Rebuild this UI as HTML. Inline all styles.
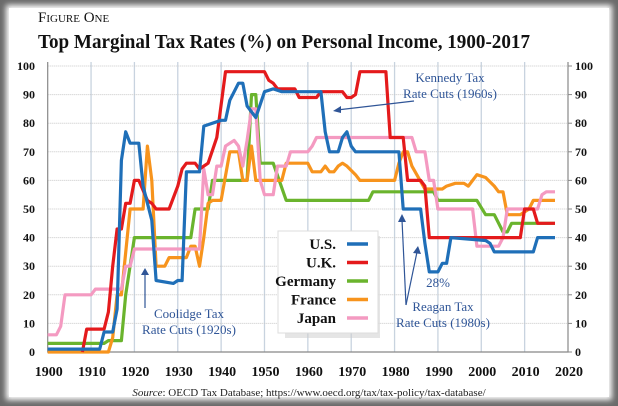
<!DOCTYPE html>
<html><head><meta charset="utf-8"><style>
body{margin:0;background:#fff;}
#wrap{position:relative;width:618px;height:406px;overflow:hidden;background:#fff;}
svg text{font-family:"Liberation Serif",serif;}
</style></head><body>
<div id="wrap">
<svg id="chart" width="618" height="406" xmlns="http://www.w3.org/2000/svg">
<defs><filter id="blur"><feGaussianBlur stdDeviation="3"/></filter></defs>
<rect x="0" y="0" width="618" height="406" fill="#6a6a6a"/>
<rect x="6" y="5" width="606" height="395" fill="#fff" filter="url(#blur)"/>
<rect x="9" y="8" width="600" height="389" fill="#fff"/>
<text x="38" y="22" font-size="15" fill="#111">F<tspan font-size="11">IGURE</tspan> O<tspan font-size="11">NE</tspan></text>
<text x="38" y="48" font-size="20" font-weight="bold" fill="#111" textLength="492" lengthAdjust="spacingAndGlyphs">Top Marginal Tax Rates (%) on Personal Income, 1900-2017</text>
<g id="grid"></g>
<g id="series"></g>
<g id="annot" fill="#2f5597" font-size="13">
<text x="450" y="82" text-anchor="middle">Kennedy Tax</text>
<text x="450" y="98" text-anchor="middle">Rate Cuts (1960s)</text>
<line x1="414" y1="101" x2="337" y2="110" stroke="#2f5597" stroke-width="1.2"/>
<polygon points="333,111 341,106 341,113" fill="#2f5597"/>
<text x="189" y="318" text-anchor="middle">Coolidge Tax</text>
<text x="189" y="334" text-anchor="middle">Rate Cuts (1920s)</text>
<line x1="145" y1="308" x2="145" y2="272" stroke="#2f5597" stroke-width="1.2"/>
<polygon points="145,268 141,275 149,275" fill="#2f5597"/>
<text x="443" y="311" text-anchor="middle">Reagan Tax</text>
<text x="443" y="327" text-anchor="middle">Rate Cuts (1980s)</text>
<line x1="406" y1="305" x2="402" y2="220" stroke="#2f5597" stroke-width="1.2"/>
<polygon points="402,214 398,222 406,222" fill="#2f5597"/>
<line x1="406" y1="305" x2="417" y2="252" stroke="#2f5597" stroke-width="1.2"/>
<polygon points="418,246 413,253 421,254" fill="#2f5597"/>
<text x="438" y="287" text-anchor="middle">28%</text>
</g>
<g>
<rect x="285" y="236" width="95" height="102" fill="#ccc" opacity="0.5"/>
<rect x="278" y="231" width="100" height="102" fill="#fff" stroke="#ddd"/>
<g id="legend"></g>
</g>
<text x="309" y="396" text-anchor="middle" font-size="11" fill="#222"><tspan font-style="italic">Source</tspan>: OECD Tax Database; https://www.oecd.org/tax/tax-policy/tax-database/</text>
</svg>
</div>
<script>
const names = ["U.S.","U.K.","Germany","France","Japan"];
const colors = ["#1f6fb8","#e41a1c","#6ab42d","#f7941d","#f49ac1"];
const yTicks = [0,10,20,30,40,50,60,70,80,90,100];
const xTicks = [1900,1910,1920,1930,1940,1950,1960,1970,1980,1990,2000,2010,2020];
const usYears = [1900,1912,1913,1915,1916,1917,1918,1919,1921,1922,1924,1925,1929,1930,1931,1932,1935,1936,1940,1941,1942,1944,1945,1946,1948,1950,1952,1954,1963,1964,1965,1967,1968,1969,1970,1971,1981,1982,1986,1987,1988,1990,1991,1992,1993,2001,2002,2003,2012,2013,2017];
const usVals = [1,1,7,7,15,67,77,73,73,58,46,25,24,25,25,63,63,79,81,81,88,94,94,86,82,91,92,91,91,77,70,70,75,77,72,70,70,50,50,38,28,28,31,31,40,39,38,35,35,40,40];
const ukYears = [1908,1909,1913,1914,1915,1916,1917,1918,1919,1920,1921,1923,1924,1925,1928,1930,1931,1932,1934,1935,1937,1939,1941,1950,1951,1952,1953,1957,1958,1962,1963,1968,1969,1970,1971,1972,1978,1979,1982,1983,1986,1987,1988,1991,2009,2010,2012,2013,2017];
const ukVals = [0,8,8,14,30,43,43,52,52,60,60,53,52,50,50,58,64,66,66,64,66,75,98,98,95,94,92,92,89,89,91,91,89,89,90,98,98,75,75,60,60,58,40,40,40,50,50,45,45];
const deYears = [1900,1913,1914,1917,1918,1920,1933,1934,1937,1938,1946,1947,1948,1949,1952,1955,1974,1975,1989,1990,1999,2001,2003,2005,2006,2007,2017];
const deVals = [3,3,4,4,20,40,40,50,50,60,60,90,90,66,66,53,53,56,56,53,53,48,48,42,42,45,45];
const frYears = [1900,1914,1915,1916,1917,1919,1922,1923,1924,1925,1927,1928,1932,1933,1934,1935,1936,1937,1938,1940,1942,1944,1945,1946,1947,1948,1954,1955,1960,1961,1963,1964,1965,1966,1967,1968,1969,1971,1972,1980,1981,1982,1983,1984,1987,1991,1992,1994,1996,1997,1999,2001,2003,2004,2005,2006,2009,2010,2011,2012,2017];
const frVals = [0,0,5,20,20,50,50,72,60,30,30,33,33,37,37,30,40,52,53,53,70,70,60,60,72,60,60,66,66,63,63,65,63,63,65,66,65,62,60,60,66,70,70,65,57,57,58,59,59,58,62,61,58,56,56,48,48,49,50,53,53];
const jpYears = [1900,1902,1903,1904,1910,1911,1913,1917,1918,1919,1920,1935,1936,1937,1938,1939,1940,1941,1943,1944,1945,1946,1947,1948,1949,1950,1952,1953,1955,1956,1960,1961,1962,1984,1985,1987,1988,1989,1990,1998,1999,2004,2005,2006,2013,2014,2015,2017];
const jpVals = [6,6,9,20,20,22,22,22,30,30,36,36,64,55,55,65,65,72,74,72,65,74,85,85,60,55,55,65,65,70,70,72,75,75,70,70,60,60,50,50,37,37,40,50,50,55,56,56];
const allYears = [usYears,ukYears,deYears,frYears,jpYears];
const allVals = [usVals,ukVals,deVals,frVals,jpVals];

const X0=47.7, X1=568, Y0=352, Y1=66;
const xs = y => X0 + (y-1900)/120*(X1-X0);
const ys = v => Y0 - v/100*(Y0-Y1);
const NS="http://www.w3.org/2000/svg";
function mk(tag, attrs, parent){const e=document.createElementNS(NS,tag);for(const k in attrs)e.setAttribute(k,attrs[k]);parent.appendChild(e);return e;}
const grid=document.getElementById('grid');
xTicks.forEach(t=>{
  if(t>1900&&t<2020){const l=mk('line',{x1:xs(t),x2:xs(t),y1:Y1-4,y2:Y0,stroke:'#c8d3df','stroke-width':1.3},grid);
  
  }
  const tx=mk('text',{x:xs(t)+1,y:376,'text-anchor':'middle','font-size':14,'font-weight':'bold',fill:'#111'},grid);
  tx.textContent=t;
  
  
});
yTicks.forEach(t=>{
  if(t>0){const l=mk('line',{x1:X0,x2:X1,y1:ys(t),y2:ys(t),stroke:'#c8c8c8','stroke-width':1,'stroke-dasharray':'1,1'},grid);
  
  }
  const a=mk('text',{x:35,y:ys(t)+4,'text-anchor':'end','font-size':12,'font-weight':'bold',fill:'#111'},grid);
  a.textContent=t;
  
  
  const b=mk('text',{x:575,y:ys(t)+4,'font-size':12,'font-weight':'bold',fill:'#111'},grid);
  b.textContent=t;
  
  
  mk('line',{x1:X1,x2:X1+4,y1:ys(t),y2:ys(t),stroke:'#888'},grid);
});
const ax=mk('path',{d:`M${X0},${Y1-4}V${Y0}H${X1}V${Y1-4}`,fill:'none',stroke:'#888','stroke-width':1.2},grid);


const sg=document.getElementById('series');
[2,3,4,1,0].forEach(i=>{
  const d=allYears[i].map((y,j)=>(j?'L':'M')+xs(y).toFixed(1)+','+ys(allVals[i][j]).toFixed(1)).join('');
  const p=mk('path',{d:d,fill:'none',stroke:colors[i],'stroke-width':3.2,'stroke-linejoin':'round'},sg);
  
  
});
const lg=document.getElementById('legend');
names.forEach((n,i)=>{
  const y=244+i*18.5;
  const t=mk('text',{x:336,y:y+5,'text-anchor':'end','font-size':15,'font-weight':'bold',fill:'#111'},lg);
  t.textContent=n;
  
  
  mk('line',{x1:347,x2:368,y1:y,y2:y,stroke:colors[i],'stroke-width':3.5},lg);
});
</script>
</body></html>
